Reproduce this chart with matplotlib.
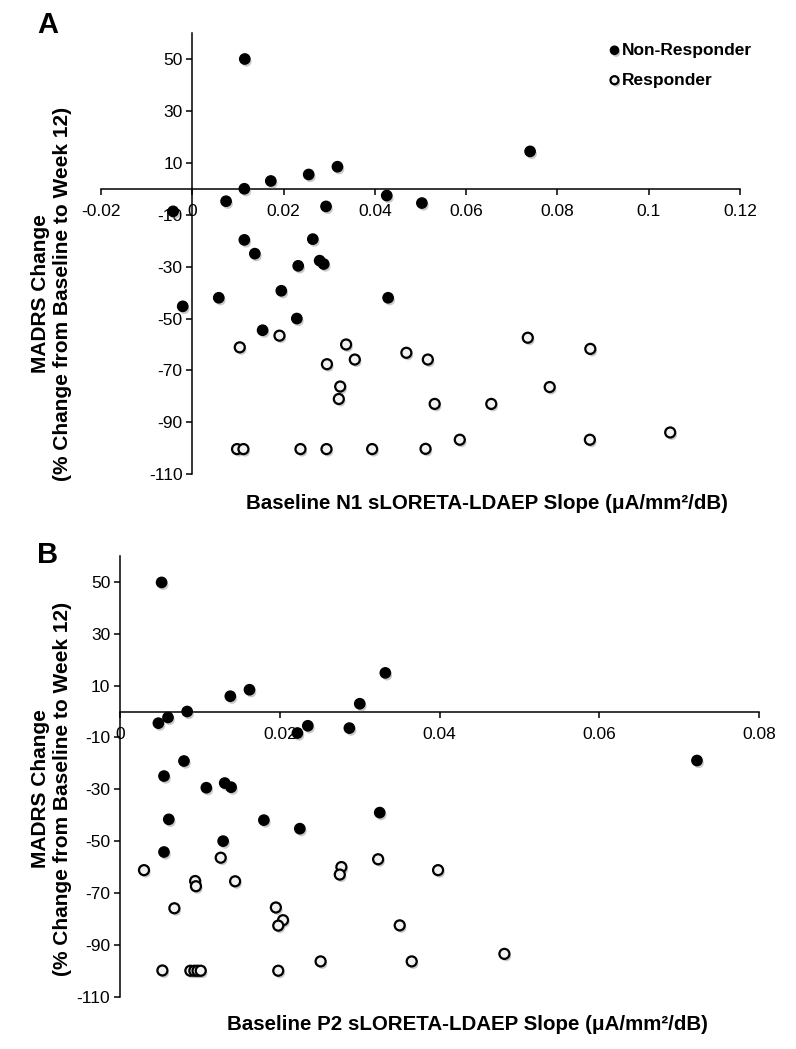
import matplotlib
matplotlib.use("Agg")
import matplotlib.pyplot as plt
import matplotlib.patheffects as pe

plt.rcParams['font.family'] = ['Liberation Sans', 'DejaVu Sans']

# Panel A: N1 slope vs MADRS change
n1_nonresp_x = [0.0115, 0.0318, 0.0255, 0.0172, 0.0114, 0.0074, -0.0042, 0.0293, 0.0426, 0.0114,
                0.0264, 0.0137, 0.0279, 0.0288, 0.0740, 0.0503, 0.0232, 0.0058, -0.0021, 0.0195,
                0.0429, 0.0229, 0.0154]
n1_nonresp_y = [50.0, 8.5, 5.5, 3.0, 0.0, -4.8, -8.7, -6.8, -2.6, -19.7,
                -19.4, -25.0, -27.7, -29.0, 14.4, -5.5, -29.7, -42.0, -45.3, -39.3,
                -42.0, -50.0, -54.5]
n1_resp_x = [0.0191, 0.0104, 0.0337, 0.0356, 0.0295, 0.0324, 0.0321, 0.0098, 0.0112, 0.0237,
             0.0294, 0.0394, 0.0469, 0.0516, 0.0735, 0.0872, 0.0783, 0.0531, 0.0655, 0.0586,
             0.0511, 0.0871, 0.1047]
n1_resp_y = [-56.6, -61.1, -60.0, -65.8, -67.6, -76.2, -81.0, -100.3, -100.3, -100.3,
             -100.3, -100.3, -63.2, -65.8, -57.4, -61.7, -76.4, -82.9, -82.9, -96.7,
             -100.2, -96.7, -93.9]

# Panel B: P2 slope vs MADRS change
p2_nonresp_x = [0.0052, 0.0332, 0.0162, 0.0138, 0.0300, 0.0084, 0.0060, 0.0048, 0.0235, 0.0222,
                0.0287, 0.0080, 0.0055, 0.0108, 0.0131, 0.0139, 0.0061, 0.0180, 0.0225, 0.0325,
                0.0129, 0.0055, 0.0722]
p2_nonresp_y = [49.8, 14.9, 8.4, 5.9, 3.0, 0.0, -2.3, -4.5, -5.5, -8.3,
                -6.4, -19.1, -24.9, -29.4, -27.6, -29.2, -41.6, -41.9, -45.2, -39.0,
                -50.0, -54.2, -18.9]
p2_resp_x = [0.0030, 0.0126, 0.0094, 0.0095, 0.0144, 0.0068, 0.0195, 0.0204, 0.0198, 0.0277,
             0.0275, 0.0323, 0.0251, 0.0053, 0.0088, 0.0093, 0.0097, 0.0101, 0.0198, 0.0398,
             0.0350, 0.0365, 0.0481]
p2_resp_y = [-61.2, -56.4, -65.4, -67.4, -65.5, -75.9, -75.6, -80.5, -82.6, -60.0,
             -62.9, -57.0, -96.4, -99.9, -100.0, -100.0, -100.0, -100.0, -100.0, -61.2,
             -82.5, -96.4, -93.5]

y_ticks = [50, 30, 10, -10, -30, -50, -70, -90, -110]
y_labels = ["50", "30", "10", "-10", "-30", "-50", "-70", "-90", "-110"]
a_xticks = [-0.02, 0, 0.02, 0.04, 0.06, 0.08, 0.1, 0.12]
a_xlabels = ["-0.02", "0", "0.02", "0.04", "0.06", "0.08", "0.1", "0.12"]
b_xticks = [0, 0.02, 0.04, 0.06, 0.08]
b_xlabels = ["0", "0.02", "0.04", "0.06", "0.08"]

shadow = [pe.SimplePatchShadow(offset=(1.2, -1.8), shadow_rgbFace='#888888', alpha=0.45), pe.Normal()]


def draw_panel(ax, nx, ny, rx, ry, xticks, xlabels, xlim):
    ax.scatter(nx, ny, s=55, c='black', edgecolors='black', linewidths=1.0,
               zorder=3, path_effects=shadow, label='Non-Responder')
    ax.scatter(rx, ry, s=52, c='#f2f2f2', edgecolors='black', linewidths=1.6,
               zorder=3, path_effects=shadow, label='Responder')
    ax.set_xlim(*xlim)
    ax.set_ylim(-110, 60)
    ax.spines['left'].set_position(('data', 0))
    ax.spines['bottom'].set_position(('data', 0))
    ax.spines['top'].set_visible(False)
    ax.spines['right'].set_visible(False)
    for s in ['left', 'bottom']:
        ax.spines[s].set_linewidth(1.1)
    ax.set_xticks(xticks)
    ax.set_xticklabels(xlabels)
    ax.set_yticks(y_ticks)
    ax.set_yticklabels(y_labels)
    ax.tick_params(axis='both', direction='out', length=4, width=1.1, labelsize=12.5)
    ax.tick_params(axis='x', pad=7)
    ax.tick_params(axis='y', pad=3)


fig = plt.figure(figsize=(7.96, 10.49), dpi=100)

axA = fig.add_axes([0.1269, 0.5479, 0.8028, 0.4206])
draw_panel(axA, n1_nonresp_x, n1_nonresp_y, n1_resp_x, n1_resp_y, a_xticks, a_xlabels, (-0.02, 0.12))
leg = axA.legend(loc='upper left', bbox_to_anchor=(598 / 796, 1 - 34 / 1049),
                 bbox_transform=fig.transFigure, frameon=False, handletextpad=0.0,
                 handlelength=0.9, labelspacing=0.85, borderpad=0,
                 prop={'weight': 'bold', 'size': 12.5}, markerscale=0.8)

axB = fig.add_axes([0.1508, 0.0499, 0.8031, 0.4201])
draw_panel(axB, p2_nonresp_x, p2_nonresp_y, p2_resp_x, p2_resp_y, b_xticks, b_xlabels, (0, 0.08))

# x labels
fig.text(487 / 796, 1 - 503 / 1049, "Baseline N1 sLORETA-LDAEP Slope (\u03bcA/mm\u00b2/dB)",
         ha='center', va='center', fontsize=14.8, fontweight='bold')
fig.text(467 / 796, 1 - 1025 / 1049, "Baseline P2 sLORETA-LDAEP Slope (\u03bcA/mm\u00b2/dB)",
         ha='center', va='center', fontsize=14.8, fontweight='bold')

# y labels
ylab = "MADRS Change\n(% Change from Baseline to Week 12)"
fig.text(52 / 796, 1 - 294 / 1049, ylab, ha='center', va='center', rotation=90,
         fontsize=15, fontweight='bold', linespacing=1.2, multialignment='center')
fig.text(52 / 796, 1 - 789 / 1049, ylab, ha='center', va='center', rotation=90,
         fontsize=15, fontweight='bold', linespacing=1.2, multialignment='center')

# panel letters
fig.text(37 / 796, 1 - 33 / 1049, "A", ha='left', va='baseline', fontsize=21, fontweight='bold')
fig.text(37 / 796, 1 - 563 / 1049, "B", ha='left', va='baseline', fontsize=21, fontweight='bold')

fig.savefig("out.png", dpi=100)
